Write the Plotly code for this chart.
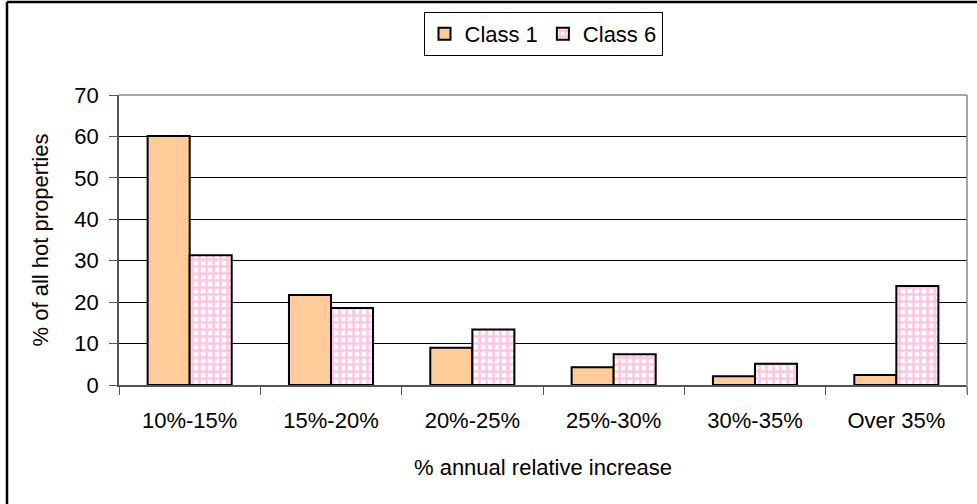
import plotly.graph_objects as go

categories = ["10%-15%", "15%-20%", "20%-25%", "25%-30%", "30%-35%", "Over 35%"]
class1 = [60.1, 21.7, 9.0, 4.3, 2.1, 2.4]
class6 = [31.3, 18.6, 13.4, 7.4, 5.1, 23.9]
y_ticks = [0, 10, 20, 30, 40, 50, 60, 70]

W, H = 977, 504
L, R, T, B = 119, 10, 95, 119
FONT = dict(family="Liberation Sans, Arial, sans-serif", size=22, color="black")

fig = go.Figure()
fig.add_trace(go.Bar(
    name="Class 1", x=categories, y=class1,
    marker=dict(color="#FFCC99", line=dict(color="black", width=2)),
))
fig.add_trace(go.Bar(
    name="Class 6", x=categories, y=class6,
    marker=dict(
        color="white",
        line=dict(color="black", width=2),
        pattern=dict(shape="+", fgcolor="#FF8CC6", bgcolor="white", size=7, solidity=0.6),
    ),
))

pw = W - L - R
ph = H - T - B
def px(x):
    return (x - L) / pw
def py(y):
    return (H - B - y) / ph

fig.update_layout(
    width=W, height=H,
    margin=dict(l=L, r=R, t=T, b=B, pad=0),
    paper_bgcolor="white", plot_bgcolor="white",
    font=FONT,
    barmode="group", bargap=0.405, bargroupgap=0,
    showlegend=True,
    legend=dict(
        orientation="h", x=0.5, xanchor="center", y=py(12), yanchor="top",
        bordercolor="black", borderwidth=1, bgcolor="white",
        font=FONT, itemwidth=30,
    ),
    xaxis=dict(
        type="category", tickson="boundaries", ticks="outside", ticklen=8,
        tickcolor="#555555", showline=True, linecolor="#555555", linewidth=1.5,
        showgrid=False, ticklabelstandoff=15,
        title=dict(text="% annual relative increase", font=FONT, standoff=27),
        tickfont=FONT,
    ),
    yaxis=dict(
        range=[0, 70], tickvals=y_ticks, ticks="outside", ticklen=8,
        tickcolor="#555555", showline=True, linecolor="#555555", linewidth=1.5,
        showgrid=True, gridcolor="black", gridwidth=1, zeroline=False,
        ticklabelstandoff=6,
        title=dict(text="% of all hot properties", font=FONT, standoff=20),
        tickfont=FONT,
    ),
    shapes=[
        # plot area border (top and right)
        dict(type="line", xref="paper", yref="paper", x0=0, x1=1, y0=1, y1=1,
             line=dict(color="#888888", width=1.5)),
        dict(type="line", xref="paper", yref="paper", x0=1, x1=1, y0=py(393), y1=1,
             line=dict(color="#888888", width=1.5)),
        # outer chart frame (left and top visible)
        dict(type="line", xref="paper", yref="paper", x0=px(7), x1=px(7), y0=py(2), y1=py(520),
             line=dict(color="black", width=2.5)),
        dict(type="line", xref="paper", yref="paper", x0=px(7), x1=px(990), y0=py(2), y1=py(2),
             line=dict(color="black", width=2.5)),
    ],
)

fig.write_html("out.html", config={"displayModeBar": False},
               post_script="document.body.style.margin='0';")
